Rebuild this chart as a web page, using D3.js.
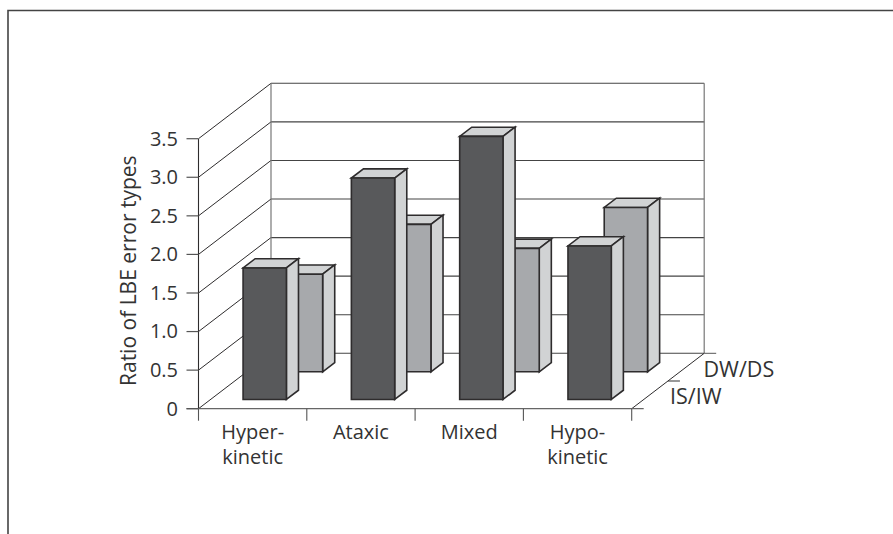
<!DOCTYPE html>
<html><head><meta charset="utf-8">
<script src="https://cdn.jsdelivr.net/npm/d3@7/dist/d3.min.js"></script>
<style>html,body{margin:0;padding:0;background:#fff}svg{display:block}text{font-family:"Open Sans",sans-serif;fill:#333}</style>
</head><body><svg id="c" width="893" height="534"></svg>
<script>
const categories = [["Hyper-","kinetic"],["Ataxic"],["Mixed"],["Hypo-","kinetic"]];
const seriesNames = ["DW/DS","IS/IW"];
const isIw = [1.705,2.87,3.41,1.99];
const dwDs = [1.265,1.91,1.60,2.13];
const yTicks = [0,0.5,1,1.5,2,2.5,3,3.5];
const yTickLabels = ["0","0.5","1.0","1.5","2.0","2.5","3.0","3.5"];

const svg = d3.select("#c");
const stroke = "#2e2c2d";
const x = d3.scaleBand().domain(d3.range(categories.length)).range([198.5,631.7]).paddingInner(0.6).paddingOuter(0.3);
const xEdge = d3.scaleLinear().domain([0,categories.length]).range([198.5,631.7]);
const y = d3.scaleLinear().domain([0,3.5]).range([408.7,138.7]);
const dxS = d3.scaleLinear().domain([0,1]).range([0,72.5]);
const dyS = d3.scaleLinear().domain([0,1]).range([0,-55.4]);
const P = (px,v,d)=>[px+dxS(d), y(v)+dyS(d)];
const line = d3.line();

// frame
svg.append("path").attr("d","M8,534V10.5H893").attr("fill","none").attr("stroke","#444").attr("stroke-width",1.6);

const g = svg.append("g");
const L = (a,b,w=1,c=stroke)=>g.append("path").attr("d",line([a,b])).attr("fill","none").attr("stroke",c).attr("stroke-width",w);
const x0=198.5,x1=631.7;
yTicks.forEach(v=>{
  L(P(x0,v,1),P(x1,v,1),1.1,"#444");
  L(P(x0,v,0),P(x0,v,1),1);
});
L(P(x0,0,1),P(x0,3.5,1),1.2,"#777");
L(P(x1,0,1),P(x1,3.5,1),1.2,"#777");
L(P(x0,0,0),P(x0,3.5,0),1.1);
L(P(x1,0,0),P(x1,0,1),1);
L(P(x0-12,0,0),P(x1+12,0,0),1.3,"#666");
L(P(x1,0,1),P(x1+12,0,1),1,"#555");
L(P(x1,0,0.5),P(x1+12,0,0.5),1,"#333");
yTicks.forEach(v=>L(P(x0-12,v,0),P(x0,v,0),1.2,"#555"));
d3.range(5).forEach(i=>L(P(xEdge(i),0,0),[xEdge(i),y(0)+12],1.1,"#555"));

// bars
function bar(i,v,d0,d1,front,side){
  const l=x(i), r=l+x.bandwidth();
  const poly=(pts,f)=>g.append("polygon").attr("points",pts.join(" ")).attr("fill",f).attr("stroke",stroke).attr("stroke-width",1.6);
  poly([P(l,v,d0),P(r,v,d0),P(r,v,d1),P(l,v,d1)],side);
  poly([P(r,0,d0),P(r,0,d1),P(r,v,d1),P(r,v,d0)],side);
  poly([P(l,0,d0),P(r,0,d0),P(r,v,d0),P(l,v,d0)],front);
}
const light="#a7a9ac", dark="#58595b", pale="#d1d3d4";
dwDs.forEach((v,i)=>bar(i,v,4/6,5/6,light,pale));
isIw.forEach((v,i)=>bar(i,v,1/6,2/6,dark,pale));

// labels
yTicks.forEach((v,i)=>svg.append("text").attr("x",178).attr("y",y(v)+6.8).attr("text-anchor","end").attr("font-size",20).text(yTickLabels[i]));
svg.append("text").attr("transform","translate(136,386) rotate(-90)").attr("font-size",21).text("Ratio of LBE error types");
categories.forEach((c,i)=>{
  const cx=(xEdge(i)+xEdge(i+1))/2;
  c.forEach((s,j)=>svg.append("text").attr("x",cx).attr("y",439+j*24.7).attr("text-anchor","middle").attr("font-size",20).text(s));
});
svg.append("text").attr("x",703.5).attr("y",376.7).attr("font-size",21.5).text(seriesNames[0]);
svg.append("text").attr("x",670).attr("y",404.3).attr("font-size",21.5).text(seriesNames[1]);
</script></body></html>
